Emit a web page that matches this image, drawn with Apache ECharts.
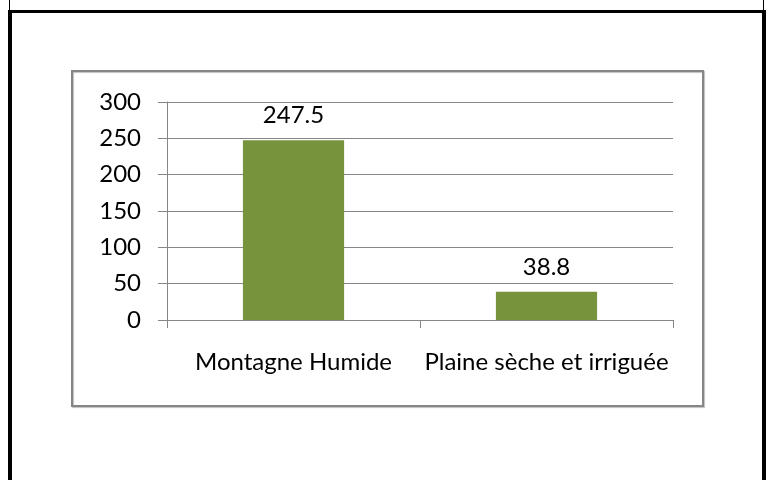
<!DOCTYPE html>
<html>
<head>
    <meta charset="UTF-8">
    <title>ECharts</title>
    <script type="text/javascript" src="https://cdn.jsdelivr.net/npm/echarts@6/dist/echarts.min.js"></script>
    <style>
        html, body { margin: 0; padding: 0; background: #fff; }
    </style>
</head>
<body>
<div id="main" style="width: 768px;height:480px;"></div>
<script type="text/javascript">
    // données du graphique
    var categories = ['Montagne Humide', 'Plaine sèche et irriguée'];
    var values = [247.5, 38.8];
    var yTicks = [0, 50, 100, 150, 200, 250, 300];

    var myChart = echarts.init(document.getElementById('main'));
    var fontFam = 'Lato, "Open Sans", sans-serif';
    var gris = '#868686';

    var option = {
        animation: false,
        backgroundColor: '#fff',
        textStyle: { fontFamily: fontFam },
        graphic: [
            // cadre noir de la page
            { type: 'line', shape: { x1: 9.5, y1: 0, x2: 9.5, y2: 11 }, style: { stroke: '#000', lineWidth: 1 } },
            { type: 'line', shape: { x1: 763.5, y1: 0, x2: 763.5, y2: 11 }, style: { stroke: '#000', lineWidth: 1 } },
            { type: 'line', shape: { x1: 8, y1: 11.5, x2: 766, y2: 11.5 }, style: { stroke: '#000', lineWidth: 3 } },
            { type: 'line', shape: { x1: 10, y1: 10, x2: 10, y2: 480 }, style: { stroke: '#000', lineWidth: 4 } },
            { type: 'line', shape: { x1: 764, y1: 10, x2: 764, y2: 480 }, style: { stroke: '#000', lineWidth: 4 } },
            // cadre gris du graphique
            { type: 'rect', shape: { x: 72, y: 71, width: 631, height: 335 },
              style: { fill: 'none', stroke: gris, lineWidth: 2, shadowColor: 'rgba(0,0,0,0.25)', shadowOffsetX: 1, shadowOffsetY: 1, shadowBlur: 1 } }
        ],
        grid: { left: 167, right: 95, top: 102, bottom: 160 },
        xAxis: {
            type: 'category',
            data: categories,
            axisLine: { lineStyle: { color: gris, width: 1 } },
            axisTick: { show: true, length: 8, lineStyle: { color: gris } },
            axisLabel: { color: '#000', fontSize: 24, fontFamily: fontFam, margin: 30, interval: 0 }
        },
        yAxis: {
            type: 'value',
            min: 0,
            max: yTicks[yTicks.length - 1],
            interval: yTicks[1] - yTicks[0],
            axisLine: { show: true, lineStyle: { color: gris, width: 1 } },
            axisTick: { show: true, length: 9, lineStyle: { color: gris } },
            splitLine: { lineStyle: { color: gris, width: 1 } },
            axisLabel: { color: '#000', fontSize: 24, fontFamily: fontFam, margin: 26 }
        },
        series: [
            {
                type: 'bar',
                data: values,
                barWidth: '40%',
                itemStyle: { color: '#77933C' },
                label: {
                    show: true,
                    position: 'top',
                    distance: 13,
                    color: '#000',
                    fontSize: 24,
                    fontFamily: fontFam
                }
            }
        ]
    };

    myChart.setOption(option);
</script>
</body>
</html>
